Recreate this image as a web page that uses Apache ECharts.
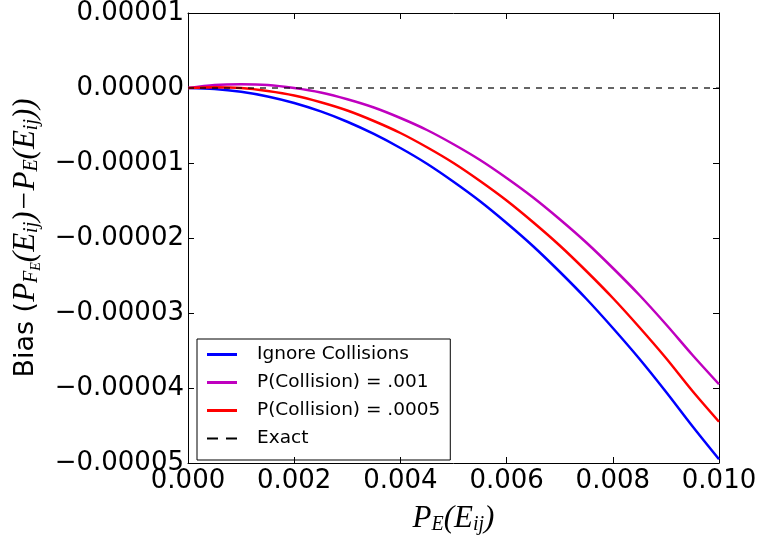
<!DOCTYPE html>
<html>
<head>
<meta charset="utf-8">
<script src="https://cdn.jsdelivr.net/npm/echarts@6/dist/echarts.min.js"></script>
<style>
  html, body { margin: 0; padding: 0; background: #fff; }
  #chart { width: 757px; height: 538px; }
</style>
</head>
<body>
<div id="chart"></div>
<script>
// x values P_E(E_ij)
var xVals = [0, 0.0005, 0.001, 0.0015, 0.002, 0.0025, 0.003, 0.0035, 0.004, 0.0045, 0.005,
             0.0055, 0.006, 0.0065, 0.007, 0.0075, 0.008, 0.0085, 0.009, 0.0095, 0.01];
// bias values, in units of 1e-5
var ignoreCollisions = [0, -0.0125, -0.05, -0.1125, -0.2, -0.3125, -0.45, -0.6125, -0.8, -1.01, -1.25,
                        -1.51, -1.8, -2.11, -2.45, -2.81, -3.2, -3.61, -4.05, -4.51, -4.95];
var pColl001 = [0, 0.04, 0.05, 0.04, 0.0, -0.06, -0.15, -0.26, -0.4, -0.56, -0.75,
                -0.96, -1.2, -1.46, -1.75, -2.06, -2.4, -2.76, -3.15, -3.56, -3.95];
var pColl0005 = [0, 0.01, 0.0, -0.04, -0.1, -0.19, -0.3, -0.44, -0.6, -0.79, -1.0,
                 -1.24, -1.5, -1.79, -2.1, -2.44, -2.8, -3.19, -3.6, -4.04, -4.45];
var exactVals = [0, 0];
var exactX = [0, 0.01];

function pairs(xs, ys){
    var out = [];
    for(var i=0;i<xs.length;i++){
        out.push([xs[i], ys[i]]);
    }
    return out;
}

var tickFont = { fontFamily: 'DejaVu Sans', fontSize: 26, color: '#000' };
var mathRich = {
    t: { fontFamily: 'DejaVu Sans', fontSize: 27, color: '#000' },
    m: { fontFamily: 'Liberation Serif', fontStyle: 'italic', fontSize: 31, color: '#000' },
    s: { fontFamily: 'Liberation Serif', fontStyle: 'italic', fontSize: 20, color: '#000', padding: [12, 0, 0, 0] },
    ss: { fontFamily: 'Liberation Serif', fontStyle: 'italic', fontSize: 14, color: '#000', padding: [22, 0, 0, 0] }
};
var dashIcon = 'path://M0,0h11v2h-11z M19,0h11v2h-11z';

var myChart = echarts.init(document.getElementById('chart'));
myChart.setOption({
    animation: false,
    grid: { left: 188, right: 38, top: 13, bottom: 75, outerBoundsMode: 'none', containLabel: false },
    legend: {
        left: 197, top: 339,
        orient: 'vertical',
        itemWidth: 30, itemHeight: 3, itemGap: 9,
        padding: [6, 10, 12, 10],
        borderColor: '#000', borderWidth: 1,
        textStyle: { fontFamily: 'DejaVu Sans', fontSize: 18.5, color: '#000', padding: [0, 0, 0, 15] },
        data: [
            { name: 'Ignore Collisions', icon: 'rect' },
            { name: 'P(Collision) = .001', icon: 'rect' },
            { name: 'P(Collision) = .0005', icon: 'rect' },
            { name: 'Exact', icon: dashIcon, itemStyle: { color: '#000' } }
        ]
    },
    xAxis: [{
        type: 'value', min: 0, max: 0.01, interval: 0.002,
        position: 'bottom',
        axisLine: { onZero: false, lineStyle: { color: '#000', width: 1 } },
        axisTick: { inside: true, length: 6, lineStyle: { color: '#000' } },
        axisLabel: Object.assign({ margin: 5, formatter: function(v){ return v.toFixed(3); } }, tickFont),
        splitLine: { show: false },
        name: '{m|P}{s|E}{m|(E}{s|ij}{m|)}',
        nameLocation: 'middle', nameGap: 40,
        nameTextStyle: { rich: mathRich }
    }, {
        type: 'value', min: 0, max: 0.01, interval: 0.002,
        position: 'top',
        axisLine: { onZero: false, lineStyle: { color: '#000', width: 1 } },
        axisTick: { inside: true, length: 6, lineStyle: { color: '#000' } },
        axisLabel: { show: false },
        splitLine: { show: false }
    }],
    yAxis: [{
        type: 'value', min: -5, max: 1, interval: 1,
        position: 'left',
        axisLine: { show: true, onZero: false, lineStyle: { color: '#000', width: 1 } },
        axisTick: { show: true, inside: true, length: 6, lineStyle: { color: '#000' } },
        axisLabel: Object.assign({ margin: 4, formatter: function(v){
            return (v * 1e-5).toFixed(5).replace('-', '\u2212');
        } }, tickFont),
        splitLine: { show: false },
        name: '{t|Bias (}{m|P}{s|F}{ss|E}{m|(E}{s|ij}{m|)\u2212P}{s|E}{m|(E}{s|ij}{m|))}',
        nameLocation: 'middle', nameGap: 143, nameRotate: 90,
        nameTextStyle: { rich: mathRich }
    }, {
        type: 'value', min: -5, max: 1, interval: 1,
        position: 'right',
        axisLine: { show: true, onZero: false, lineStyle: { color: '#000', width: 1 } },
        axisTick: { show: true, inside: true, length: 6, lineStyle: { color: '#000' } },
        axisLabel: { show: false },
        splitLine: { show: false }
    }],
    series: [{
        name: 'Ignore Collisions', type: 'line', showSymbol: false, smooth: 0.3,
        color: '#0000ff', lineStyle: { width: 2.5 },
        data: pairs(xVals, ignoreCollisions)
    }, {
        name: 'P(Collision) = .001', type: 'line', showSymbol: false, smooth: 0.3,
        color: '#bf00bf', lineStyle: { width: 2.5 },
        data: pairs(xVals, pColl001)
    }, {
        name: 'P(Collision) = .0005', type: 'line', showSymbol: false, smooth: 0.3,
        color: '#ff0000', lineStyle: { width: 2.5 },
        data: pairs(xVals, pColl0005)
    }, {
        name: 'Exact', type: 'line', showSymbol: false,
        color: '#000', lineStyle: { width: 1.2, type: [6, 6] },
        data: pairs(exactX, exactVals)
    }]
});
</script>
</body>
</html>
